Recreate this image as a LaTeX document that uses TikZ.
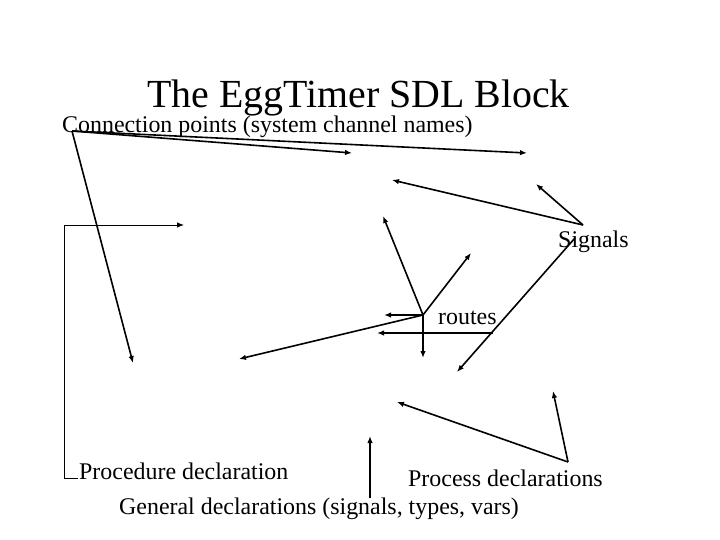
\documentclass[tikz,border=0pt]{standalone}
\usepackage{fontspec}
\setmainfont{Liberation Serif}
\usetikzlibrary{arrows.meta}
\begin{document}
\begin{tikzpicture}[x=1bp,y=-1bp,
  lbl/.style={inner sep=0pt, anchor=base west, font=\fontsize{24}{28}\selectfont},
  ttl/.style={inner sep=0pt, anchor=base west, font=\fontsize{40}{46}\selectfont},
  arr/.style={line width=1.6bp, -{Latex[length=7bp,width=5.5bp]}},
  brk/.style={line width=0.9bp, -{Latex[length=7bp,width=5.5bp]}}]
\useasboundingbox (0,0) rectangle (720,540);
\fill[white] (0,0) rectangle (720,540);
% texts
\node[ttl] (title) at (147,108) {The EggTimer SDL Block};
\node[lbl] (conn) at (62,133) {Connection points (system channel names)};
\node[lbl] (sig) at (558,248) {Signals};
\node[lbl] (rts) at (438,324) {routes};
\node[lbl] (proc) at (79,479) {Procedure declaration};
\node[lbl] (procs) at (408,486) {Process declarations};
\node[lbl] (gen) at (119,514) {General declarations (signals, types, vars)};
% anchor points
\coordinate (cp) at (72,131);
\coordinate (cp1) at (352,153);
\coordinate (cp2) at (527,153);
\coordinate (cp3) at (133,363);
\coordinate (sg) at (583,225);
\coordinate (sg1) at (392,180);
\coordinate (sg2) at (536,184);
\coordinate (sgb) at (575,238);
\coordinate (sg3) at (457,372);
\coordinate (rt) at (423,315);
\coordinate (rt1) at (383,216);
\coordinate (rt2) at (471,253);
\coordinate (rt3) at (384,315);
\coordinate (rt4) at (423,358);
\coordinate (rt5) at (239,359);
\coordinate (rh) at (493,333);
\coordinate (rh1) at (377,333);
\coordinate (pd0) at (78,478);
\coordinate (pd1) at (64,478);
\coordinate (pd2) at (64,225);
\coordinate (pd3) at (184,225);
\coordinate (pr) at (568,462);
\coordinate (pr1) at (397,402);
\coordinate (pr2) at (553,391);
\coordinate (gd) at (370,498);
\coordinate (gd1) at (370,436);
% connectors
\draw[arr] (cp) -- (cp1);
\draw[arr] (cp) -- (cp2);
\draw[arr] (cp) -- (cp3);
\draw[arr] (sg) -- (sg1);
\draw[arr] (sg) -- (sg2);
\draw[arr] (sgb) -- (sg3);
\draw[arr] (rt) -- (rt1);
\draw[arr] (rt) -- (rt2);
\draw[arr] (rt) -- (rt3);
\draw[arr] (rt) -- (rt4);
\draw[arr] (rt) -- (rt5);
\draw[arr] (rh) -- (rh1);
\draw[brk] (pd0) -- (pd1) -- (pd2) -- (pd3);
\draw[arr] (pr) -- (pr1);
\draw[arr] (pr) -- (pr2);
\draw[arr] (gd) -- (gd1);
\end{tikzpicture}
\end{document}
